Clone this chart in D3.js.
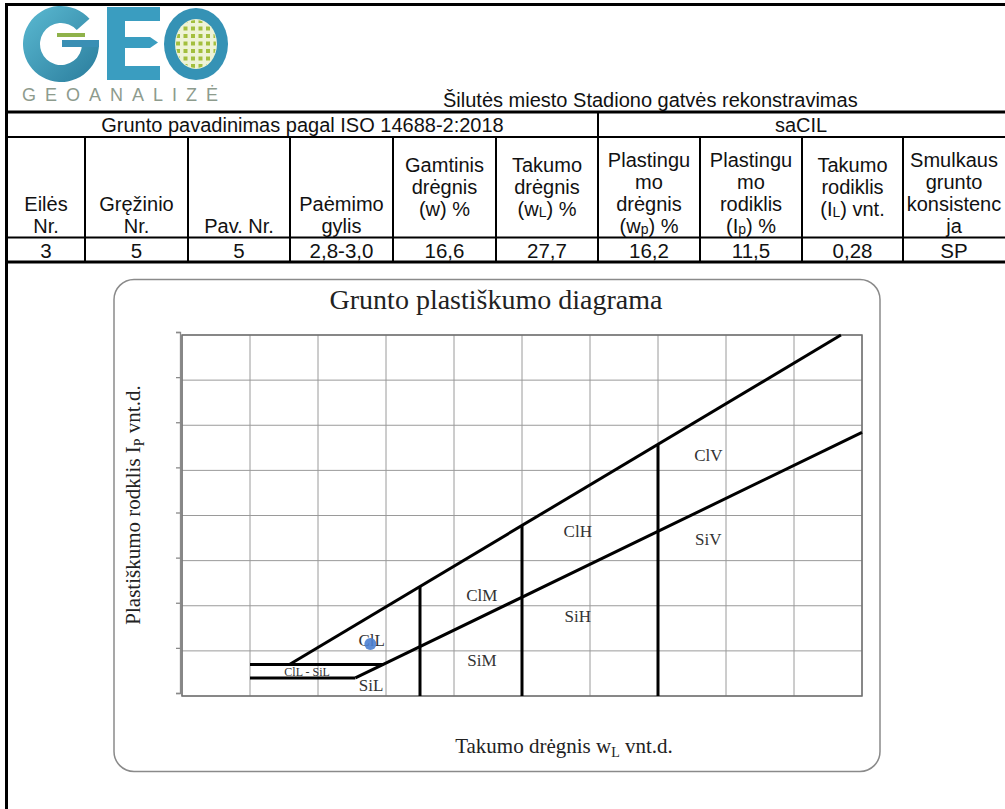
<!DOCTYPE html>
<html lang="lt">
<head>
<meta charset="UTF-8">
<title>Grunto plastiškumo diagrama</title>
<script src="https://d3js.org/d3.v7.min.js"></script>
<style>
  body { margin: 0; background: #fff; }
  svg { display: block; }
  .sans { font-family: "Liberation Sans", Arial, sans-serif; fill: #111; }
  .serif { font-family: "Liberation Serif", "Times New Roman", serif; fill: #222; }
</style>
</head>
<body>
<svg id="page" width="1005" height="809"></svg>
<script>
// ---- table data ----
const projectTitle = "Šilutės miesto Stadiono gatvės rekonstravimas";
const isoTitle = "Grunto pavadinimas pagal ISO 14688-2:2018";
const soilName = "saCIL";
const headLines = [
  ["Eilės", "Nr."],
  ["Gręžinio", "Nr."],
  ["Pav. Nr."],
  ["Paėmimo", "gylis"],
  ["Gamtinis", "drėgnis", "(w) %"],
  ["Takumo", "drėgnis", "(w_L) %"],
  ["Plastingu", "mo", "drėgnis", "(w_p) %"],
  ["Plastingu", "mo", "rodiklis", "(I_p) %"],
  ["Takumo", "rodiklis", "(I_L) vnt."],
  ["Smulkaus", "grunto", "konsistenc", "ja"]
];
const rowValues = ["3", "5", "5", "2,8-3,0", "16,6", "27,7", "16,2", "11,5", "0,28", "SP"];

// ---- chart data (wL %, Ip %) ----
const gridWL = [0, 10, 20, 30, 40, 50, 60, 70, 80, 90, 100];
const gridIP = [0, 10, 20, 30, 40, 50, 60, 70, 80];
const aLine = [[25.5, 4], [100, 58.4]];
const uLine = [[15.8, 7], [96.9, 80]];
const bandLines = [[[10, 7], [29.6, 7]], [[10, 4], [25.5, 4]]];
const boundWL = [35, 50, 70];
const boundTopIP = [24.3, 37.8, 55.8];
const zoneNames = ["ClV", "SiV", "ClH", "SiH", "ClM", "SiM", "ClL", "SiL"];
const zoneWL = [77.4, 77.4, 58.2, 58.2, 44.1, 44.1, 27.9, 27.8];
const zoneIP = [53.4, 34.8, 36.6, 17.7, 22.4, 8.0, 12.4, 2.4];
const bandLabel = ["ClL - SiL"];
const bandLabelAt = [18.4, 5.3];
const sampleWL = [27.7];
const sampleIP = [11.5];

const svg = d3.select("#page");

// rich text: "_x" => small subscript letter
function rich(sel, str, subSize, shift) {
  const parts = str.split(/_(\w)/);
  parts.forEach((p, i) => {
    if (!p) return;
    const t = sel.append("tspan").text(p);
    if (i % 2 === 1) t.attr("font-size", subSize).attr("dy", shift);
    else if (i > 0) t.attr("dy", -shift);
  });
}

// ---- page frame ----
svg.append("line").attr("x1", 6.5).attr("x2", 6.5).attr("y1", 3).attr("y2", 809)
  .attr("stroke", "#000").attr("stroke-width", 3);
svg.append("line").attr("x1", 5).attr("x2", 1005).attr("y1", 4.5).attr("y2", 4.5)
  .attr("stroke", "#000").attr("stroke-width", 3);

// ---- logo ----
const defs = svg.append("defs");
const grad = defs.append("linearGradient").attr("id", "gTeal")
  .attr("x1", 0).attr("y1", 0).attr("x2", 1).attr("y2", 1);
grad.append("stop").attr("offset", 0).attr("stop-color", "#5bbad2");
grad.append("stop").attr("offset", 1).attr("stop-color", "#2a7c9c");

const logo = svg.append("g");
logo.append("path")
  .attr("transform", "translate(61,44)")
  .attr("d", d3.arc()({innerRadius: 21, outerRadius: 38, startAngle: -1.5 * Math.PI, endAngle: 0.27 * Math.PI}))
  .attr("fill", "url(#gTeal)");
logo.append("rect").attr("x", 62).attr("y", 40).attr("width", 37).attr("height", 7).attr("fill", "#3a8fb4");
logo.append("rect").attr("x", 57).attr("y", 33).attr("width", 28).attr("height", 4).attr("fill", "#8fb24a");
logo.append("path")
  .attr("d", "M107,7H160V21H125V37H150L158,42.5L150,48H125V66H160V80H107Z")
  .attr("fill", "#3a9dc0");
logo.append("ellipse").attr("cx", 196).attr("cy", 44).attr("rx", 32).attr("ry", 36).attr("fill", "#3592b5");
logo.append("ellipse").attr("cx", 196).attr("cy", 44).attr("rx", 21).attr("ry", 25).attr("fill", "#eef3d6");
defs.append("clipPath").attr("id", "oClip")
  .append("ellipse").attr("cx", 196).attr("cy", 44).attr("rx", 20).attr("ry", 24);
const dots = logo.append("g").attr("clip-path", "url(#oClip)");
d3.range(6).forEach(i => d3.range(7).forEach(j => {
  dots.append("rect").attr("x", 176 + i * 7.5).attr("y", 19 + j * 7.5)
    .attr("width", 4).attr("height", 4).attr("fill", "#a3bf3e");
}));
logo.append("text").attr("class", "sans").attr("x", 22).attr("y", 101)
  .attr("font-size", 18).attr("letter-spacing", 9).style("fill", "#8d9b8d")
  .text("GEOANALIZĖ");

// ---- table ----
const colX = [7, 85, 188, 290, 393, 496, 598, 700, 802, 903, 1010];
const thick = 3, thin = 2, fs = 20;
svg.append("text").attr("class", "sans").attr("x", 443).attr("y", 107)
  .attr("font-size", fs).text(projectTitle);

const hl = (y, w) => svg.append("line").attr("x1", 5).attr("x2", 1005)
  .attr("y1", y).attr("y2", y).attr("stroke", "#000").attr("stroke-width", w);
hl(112, thick); hl(137, thin); hl(237.5, thin); hl(262, thick);

colX.slice(1, -1).forEach((x, i) => {
  svg.append("line").attr("x1", x).attr("x2", x)
    .attr("y1", i === 5 ? 112 : 137).attr("y2", 262)
    .attr("stroke", "#000").attr("stroke-width", thin);
});

svg.append("text").attr("class", "sans").attr("x", (colX[0] + colX[6]) / 2).attr("y", 131.5)
  .attr("text-anchor", "middle").attr("font-size", fs).text(isoTitle);
svg.append("text").attr("class", "sans").attr("x", 801).attr("y", 131.5)
  .attr("text-anchor", "middle").attr("font-size", fs).text(soilName);

const middleCols = [4, 5, 8];
headLines.forEach((lines, c) => {
  const cx = c === 9 ? 954 : (colX[c] + colX[c + 1]) / 2;
  const n = lines.length;
  const lastY = middleCols.includes(c) ? 187 + (n - 1) * 11 : 226;
  lines.forEach((ln, k) => {
    const t = svg.append("text").attr("class", "sans")
      .attr("x", cx).attr("y", lastY - (n - 1 - k) * 22 + 7)
      .attr("text-anchor", "middle").attr("font-size", fs);
    rich(t, ln, 14, 1);
  });
});

rowValues.forEach((v, c) => {
  const cx = c === 9 ? 954 : (colX[c] + colX[c + 1]) / 2;
  svg.append("text").attr("class", "sans").attr("x", cx).attr("y", 257.5)
    .attr("text-anchor", "middle").attr("font-size", 20.5).text(v);
});

// ---- chart ----
svg.append("rect").attr("x", 114).attr("y", 279.5).attr("width", 766).attr("height", 492)
  .attr("rx", 20).attr("fill", "#fff").attr("stroke", "#8a8a8a").attr("stroke-width", 1.5);

svg.append("text").attr("class", "serif").attr("x", 496).attr("y", 309)
  .attr("text-anchor", "middle").attr("font-size", 28).text("Grunto plastiškumo diagrama");

const x = d3.scaleLinear().domain([0, 100]).range([182, 862]);
const y = d3.scaleLinear().domain([0, 80]).range([696, 335]);

const plot = svg.append("g");
plot.append("g").selectAll("line").data(gridWL).join("line")
  .attr("x1", d => x(d)).attr("x2", d => x(d)).attr("y1", y(0)).attr("y2", y(80))
  .attr("stroke", "#9a9a9a").attr("stroke-width", 1);
plot.append("g").selectAll("line").data(gridIP).join("line")
  .attr("x1", x(0)).attr("x2", x(100)).attr("y1", d => y(d)).attr("y2", d => y(d))
  .attr("stroke", "#9a9a9a").attr("stroke-width", 1);
plot.append("rect").attr("x", x(0)).attr("y", y(80)).attr("width", x(100) - x(0)).attr("height", y(0) - y(80))
  .attr("fill", "none").attr("stroke", "#707070").attr("stroke-width", 1.5);

// y axis with small outside ticks
const yAxis = plot.append("g").attr("transform", `translate(${x(0) - 2},-3)`)
  .call(d3.axisLeft(y).tickValues(gridIP).tickSize(4).tickFormat(""));
yAxis.selectAll("path,line").attr("stroke", "#8a8a8a").attr("stroke-width", 1.3);

const line = d3.line().x(d => x(d[0])).y(d => y(d[1]));
const heavy = g => g.attr("fill", "none").attr("stroke", "#000").attr("stroke-width", 3);
plot.append("path").attr("d", line(aLine)).call(heavy);
plot.append("path").attr("d", line(uLine)).call(heavy);
bandLines.forEach(b => plot.append("path").attr("d", line(b)).call(heavy));
boundWL.forEach((w, i) => plot.append("path").attr("d", line([[w, 0], [w, boundTopIP[i]]])).call(heavy));

plot.append("g").selectAll("text").data(zoneNames).join("text")
  .attr("class", "serif").attr("x", (d, i) => x(zoneWL[i])).attr("y", (d, i) => y(zoneIP[i]))
  .attr("dy", "0.35em").attr("text-anchor", "middle").attr("font-size", 17)
  .style("fill", "#333").text(d => d);
plot.append("text").attr("class", "serif").attr("x", x(bandLabelAt[0])).attr("y", y(bandLabelAt[1]))
  .attr("dy", "0.35em").attr("text-anchor", "middle").attr("font-size", 12)
  .style("fill", "#333").text(bandLabel[0]);

plot.append("g").selectAll("circle").data(sampleWL).join("circle")
  .attr("cx", d => x(d)).attr("cy", (d, i) => y(sampleIP[i])).attr("r", 6)
  .attr("fill", "#4a7fd1").attr("opacity", 0.9);

const xl = svg.append("text").attr("class", "serif").attr("x", 564).attr("y", 753)
  .attr("text-anchor", "middle").attr("font-size", 21);
rich(xl, "Takumo drėgnis w_L vnt.d.", 14, 4);

const yl = svg.append("text").attr("class", "serif")
  .attr("transform", "translate(140,505) rotate(-90)")
  .attr("text-anchor", "middle").attr("font-size", 21);
rich(yl, "Plastiškumo rodklis I_P vnt.d.", 14, 4);
</script>
</body>
</html>
